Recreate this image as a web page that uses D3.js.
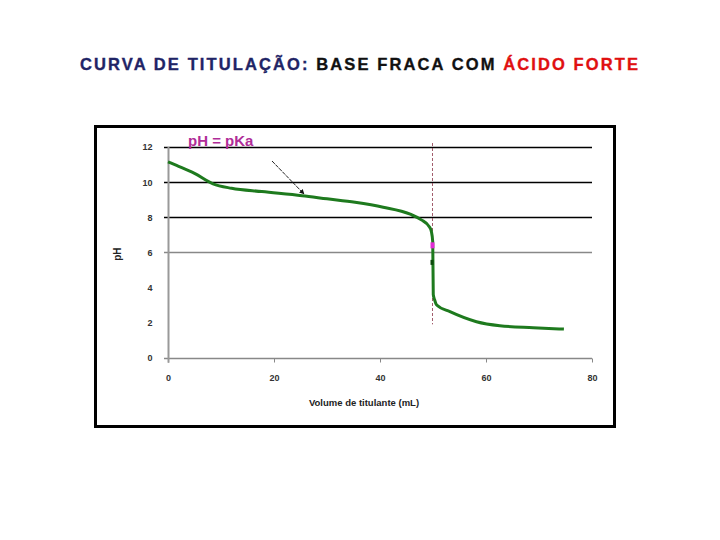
<!DOCTYPE html>
<html>
<head>
<meta charset="utf-8">
<script src="https://cdn.jsdelivr.net/npm/d3@7"></script>
<style>
body { margin: 0; background: #fff; }
svg { display: block; }
</style>
</head>
<body>
<div id="main-chart"></div>
<script>
var w = 720;
var h = 540;

// titulação: volume (mL) vs pH
var volume = [0, 2, 5, 8.5, 12, 17.7, 25.3, 30, 35.3, 40.6, 45.7, 47.8, 49.3, 49.7, 49.95, 50.05, 50.3, 50.7, 53.2, 58.2, 62.6, 68.9, 74.7];
var ph = [11.15, 10.9, 10.5, 9.9, 9.65, 9.46, 9.23, 9.05, 8.85, 8.57, 8.17, 7.85, 7.46, 7.18, 6.6, 3.6, 3.3, 3.0, 2.62, 2.05, 1.82, 1.71, 1.63];
var xticks = [0, 20, 40, 60, 80];
var yticks = [0, 2, 4, 6, 8, 10, 12];
var gridVals = [6, 8, 10, 12];
var veq = 50;        // ponto de equivalência
var phMark = 6.4;    // marcador rosa

var svg = d3.select("#main-chart")
    .append("svg")
    .attr("width", w)
    .attr("height", h);

// title
var title = svg.append("text")
    .attr("x", 80)
    .attr("y", 70)
    .attr("textLength", 558)
    .attr("lengthAdjust", "spacing")
    .style("font-family", "'Liberation Sans', Arial, sans-serif")
    .style("font-weight", "bold")
    .style("font-size", "16.5px")
    .style("stroke-width", "0.35px");
title.append("tspan").attr("fill", "#1f2466").attr("stroke", "#1f2466").text("CURVA DE TITULAÇÃO: ");
title.append("tspan").attr("fill", "#111").attr("stroke", "#111").text("BASE FRACA COM ");
title.append("tspan").attr("fill", "#e01010").attr("stroke", "#e01010").text("ÁCIDO FORTE");

// frame
svg.append("rect")
    .attr("x", 95.5)
    .attr("y", 126.5)
    .attr("width", 519)
    .attr("height", 300)
    .attr("fill", "#fff")
    .attr("stroke", "#000")
    .attr("stroke-width", 3);

var x = d3.scaleLinear()
    .domain([0, 80])
    .range([168, 592]);
var y = d3.scaleLinear()
    .domain([0, 12])
    .range([357.7, 147]);

// gridlines
svg.selectAll(".grid")
    .data(gridVals)
    .enter()
    .append("line")
    .attr("class", "grid")
    .attr("x1", x(0) - 4)
    .attr("x2", x(80))
    .attr("y1", function(d) { return Math.round(y(d)) + 0.5; })
    .attr("y2", function(d) { return Math.round(y(d)) + 0.5; })
    .attr("stroke", function(d) { return d == 6 ? "#888" : "#000"; })
    .attr("stroke-width", 1.3);

// x axis
var xAxis = d3.axisBottom(x)
    .tickValues(xticks)
    .tickSize(4)
    .tickPadding(12);
var gx = svg.append("g")
    .attr("transform", "translate(0," + (Math.round(y(0)) + 0.5) + ")")
    .call(xAxis);
gx.select(".domain").remove();
gx.append("line")
    .attr("x1", x(0) - 4)
    .attr("x2", x(80))
    .attr("stroke", "#888")
    .attr("stroke-width", 1.3);
gx.selectAll(".tick line").attr("stroke", "#888");
gx.selectAll(".tick text")
    .attr("fill", "#333")
    .style("font-family", "Arial, 'Liberation Sans', sans-serif")
    .style("font-weight", "bold")
    .style("font-size", "9px");

// y axis
var yAxis = d3.axisLeft(y)
    .tickValues(yticks)
    .tickSize(0)
    .tickPadding(16);
var gy = svg.append("g")
    .attr("transform", "translate(" + (Math.round(x(0)) + 0.5) + ",0)")
    .call(yAxis);
gy.select(".domain").remove();
gy.append("line")
    .attr("y1", y(12))
    .attr("y2", y(0) + 5)
    .attr("stroke", "#999")
    .attr("stroke-width", 2);
gy.selectAll(".tick text")
    .attr("fill", "#333")
    .style("font-family", "Arial, 'Liberation Sans', sans-serif")
    .style("font-weight", "bold")
    .style("font-size", "9px");

// axis labels
svg.append("text")
    .attr("x", 364)
    .attr("y", 406)
    .attr("text-anchor", "middle")
    .attr("fill", "#222")
    .style("font-family", "Arial, 'Liberation Sans', sans-serif")
    .style("font-weight", "bold")
    .style("font-size", "9.5px")
    .text("Volume de titulante (mL)");

svg.append("text")
    .attr("transform", "translate(121," + y(5.9) + ") rotate(-90)")
    .attr("text-anchor", "middle")
    .attr("fill", "#222")
    .style("font-family", "Arial, 'Liberation Sans', sans-serif")
    .style("font-weight", "bold")
    .style("font-size", "10px")
    .text("pH");

// equivalence line
svg.append("line")
    .attr("x1", x(veq) - 0.5)
    .attr("x2", x(veq) - 0.5)
    .attr("y1", 143)
    .attr("y2", y(1.9))
    .attr("stroke", "#8b3548")
    .attr("stroke-width", 1)
    .attr("stroke-dasharray", "3,2")
    .attr("opacity", 0.8);

// curve
var line = d3.line()
    .x(function(d) { return x(d[0]); })
    .y(function(d) { return y(d[1]); })
    .curve(d3.curveMonotoneX);

svg.append("path")
    .datum(d3.zip(volume, ph))
    .attr("d", line)
    .attr("fill", "none")
    .attr("stroke", "#1e7a1e")
    .attr("stroke-width", 3)
    .attr("stroke-linejoin", "round");

// markers at the equivalence
svg.append("rect")
    .attr("x", x(veq) - 2.5)
    .attr("y", y(phMark) - 3)
    .attr("width", 4)
    .attr("height", 6)
    .attr("fill", "#e22bd6");
svg.append("rect")
    .attr("x", x(veq) - 2.5)
    .attr("y", y(5.4) - 3)
    .attr("width", 3)
    .attr("height", 5)
    .attr("fill", "#0d4a0d");

// pH = pKa annotation
svg.append("text")
    .attr("x", 188)
    .attr("y", 146)
    .attr("fill", "#b02c98")
    .style("font-family", "Arial, 'Liberation Sans', sans-serif")
    .style("font-weight", "bold")
    .style("font-size", "15px")
    .text("pH = pKa");

svg.append("defs")
    .append("marker")
    .attr("id", "arrow")
    .attr("viewBox", "0 0 10 10")
    .attr("refX", 9)
    .attr("refY", 5)
    .attr("markerWidth", 5)
    .attr("markerHeight", 5)
    .attr("orient", "auto")
    .append("path")
    .attr("d", "M0,0 L10,5 L0,10 z")
    .attr("fill", "#111");

svg.append("line")
    .attr("x1", 272)
    .attr("y1", 161)
    .attr("x2", 304)
    .attr("y2", 194)
    .attr("stroke", "#222")
    .attr("stroke-width", 1)
    .attr("stroke-dasharray", "4,1")
    .attr("marker-end", "url(#arrow)");
</script>
</body>
</html>
